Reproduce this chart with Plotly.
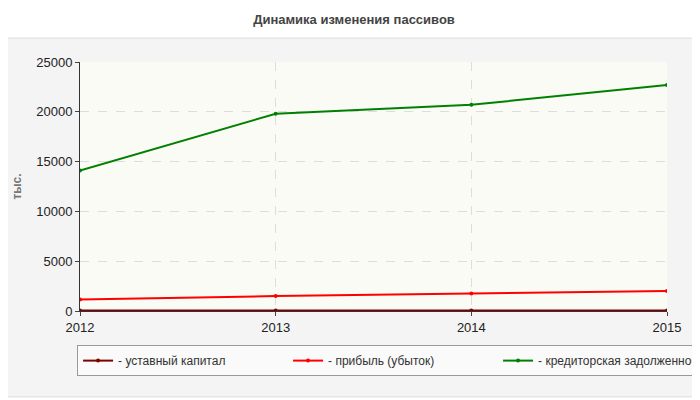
import plotly.graph_objects as go

years = ['2012', '2013', '2014', '2015']
capital = [50, 50, 50, 50]
profit = [1150, 1500, 1750, 2000]
payables = [14100, 19800, 20700, 22700]

series = [
    ('- уставный капитал', capital, '#800000'),
    ('- прибыль (убыток)', profit, '#ff0000'),
    ('- кредиторская задолженность', payables, '#008000'),
]

fig = go.Figure()
for name, vals, color in series:
    fig.add_trace(go.Scatter(
        x=[int(y) for y in years], y=vals, name=name, mode='lines+markers',
        line=dict(color=color, width=2), marker=dict(size=4, color=color),
    ))

# grey panel behind chart and legend
fig.add_shape(type='rect', xref='paper', yref='paper', x0=-0.133, x1=1.051,
              y0=-0.345, y1=1.096, fillcolor='#f4f4f4', line=dict(color='#dddddd', width=1),
              layer='below')
# plot area fill
fig.add_shape(type='rect', xref='paper', yref='paper', x0=0, x1=1, y0=0, y1=1,
              fillcolor='#fbfbf6', line=dict(width=0), layer='below')

fig.update_layout(
    width=692, height=392,
    margin=dict(l=72, r=33, t=54, b=89, autoexpand=False),
    paper_bgcolor='white', plot_bgcolor='rgba(0,0,0,0)',
    font=dict(family='Liberation Sans, Arial', size=12, color='#222222'),
    title=dict(text='<b>Динамика изменения пассивов</b>', x=0.5, y=0.97, yanchor='middle',
               font=dict(size=13, color='#444444')),
    showlegend=True,
    legend=dict(orientation='h', x=-0.005, y=-0.137, xanchor='left', yanchor='top',
                bgcolor='#fafafa', bordercolor='#999999', borderwidth=1,
                font=dict(size=12, color='#333333'), entrywidth=165),
    xaxis=dict(range=[2012, 2015], tickvals=[int(y) for y in years], ticktext=years,
               showgrid=True, gridcolor='#dddddd', griddash='dash',
               showline=True, linecolor='#333333', ticks='outside', ticklen=4,
               tickfont=dict(size=13), zeroline=False),
    yaxis=dict(range=[0, 25000], dtick=5000, tickformat='d', showgrid=True,
               gridcolor='#dddddd', griddash='dash', showline=True, linecolor='#333333',
               ticks='outside', ticklen=4, tickfont=dict(size=13), zeroline=False,
               title=dict(text='<b>тыс.</b>', standoff=12,
                          font=dict(size=12, color='#777777'))),
)

fig.write_html('out.html')
